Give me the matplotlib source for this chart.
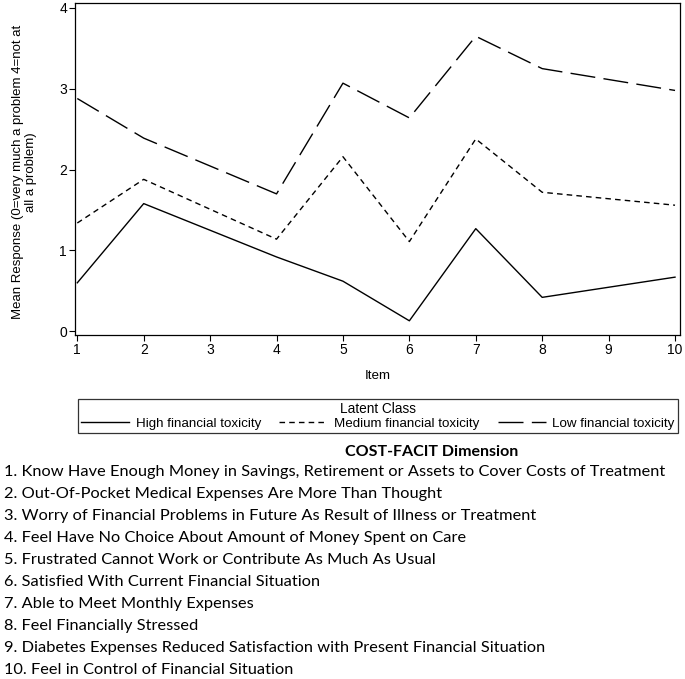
import matplotlib
matplotlib.use("Agg")
import matplotlib.pyplot as plt

items = [1, 2, 4, 5, 6, 7, 8, 10]
high = [0.60, 1.58, 0.92, 0.62, 0.13, 1.27, 0.42, 0.67]
medium = [1.34, 1.88, 1.14, 2.16, 1.11, 2.38, 1.72, 1.56]
low = [2.88, 2.39, 1.70, 3.07, 2.64, 3.65, 3.25, 2.98]
series_names = ["High financial toxicity", "Medium financial toxicity", "Low financial toxicity"]
xticks = list(range(1, 11))
yticks = [0, 1, 2, 3, 4]
ylabel = "Mean Response (0=very much a problem 4=not at\nall a problem)"
xlabel = "Item"
legend_title = "Latent Class"
dim_title = "COST-FACIT Dimension"
dimensions = [
    "1. Know Have Enough Money in Savings, Retirement or Assets to Cover Costs of Treatment",
    "2. Out-Of-Pocket Medical Expenses Are More Than Thought",
    "3. Worry of Financial Problems in Future As Result of Illness or Treatment",
    "4. Feel Have No Choice About Amount of Money Spent on Care",
    "5. Frustrated Cannot Work or Contribute As Much As Usual",
    "6. Satisfied With Current Financial Situation",
    "7. Able to Meet Monthly Expenses",
    "8. Feel Financially Stressed",
    "9. Diabetes Expenses Reduced Satisfaction with Present Financial Situation",
    "10. Feel in Control of Financial Situation",
]

W, H = 685, 679
fig = plt.figure(figsize=(W / 100, H / 100), dpi=100)
plt.rcParams['font.family'] = ['Liberation Sans', 'DejaVu Sans']

ax = fig.add_axes([75.3 / W, 1 - 334.7 / H, (680 - 75.3) / W, (334.7 - 3.3) / H])
lw = 1.0
styles = [dict(linestyle='-'), dict(dashes=(4, 3)), dict(dashes=(18, 6))]
handles = []
for vals, st, name in zip([high, medium, low], styles, series_names):
    ln, = ax.plot(items, vals, color='black', lw=lw, label=name, **st)
    handles.append(ln)

ax.set_xlim(1 - 0.03, 10 + 0.075)
ax.set_ylim(0 - 0.042, 4 + 0.058)
ax.set_xticks(xticks)
ax.set_yticks(yticks)
ax.tick_params(direction='out', length=4, width=0.8, labelsize=10, pad=2, colors='black')
for s in ax.spines.values():
    s.set_linewidth(0.9)
ax.set_xlabel(xlabel, fontsize=9.6, labelpad=9)
ax.set_ylabel(ylabel, fontsize=9.5, linespacing=1.05)
ax.yaxis.set_label_coords(-0.064, 0.49)

leg = fig.legend(handles=handles, loc='center', ncol=3, mode='expand',
                 bbox_to_anchor=(78 / W, 1 - 434 / H, 600 / W, 36 / H),
                 title=legend_title, title_fontsize=9.8, fontsize=9.6,
                 frameon=True, fancybox=False, edgecolor='black',
                 handlelength=3.6, handletextpad=0.5, borderpad=0.25,
                 labelspacing=0.1, borderaxespad=0)
leg.get_frame().set_linewidth(0.9)
leg.get_title().set_fontsize(9.8)

# Dimension list
fig.text(432 / W, 1 - 452 / H, dim_title, family=['Lato', 'DejaVu Sans'],
         fontweight='bold', fontsize=11.5, ha='center', va='center')
texts = []
fs = 11.5
for i, d in enumerate(dimensions):
    y = 472 + i * 22.0
    t = fig.text(4 / W, 1 - y / H, d, family=['Lato', 'DejaVu Sans'], fontsize=fs,
                 ha='left', va='center')
    texts.append(t)

fig.canvas.draw()
r = fig.canvas.get_renderer()
w0 = texts[0].get_window_extent(r).width
scale = (668 - 4) / w0
for t in texts:
    t.set_fontsize(fs * scale)

fig.savefig("out.png", dpi=100)
